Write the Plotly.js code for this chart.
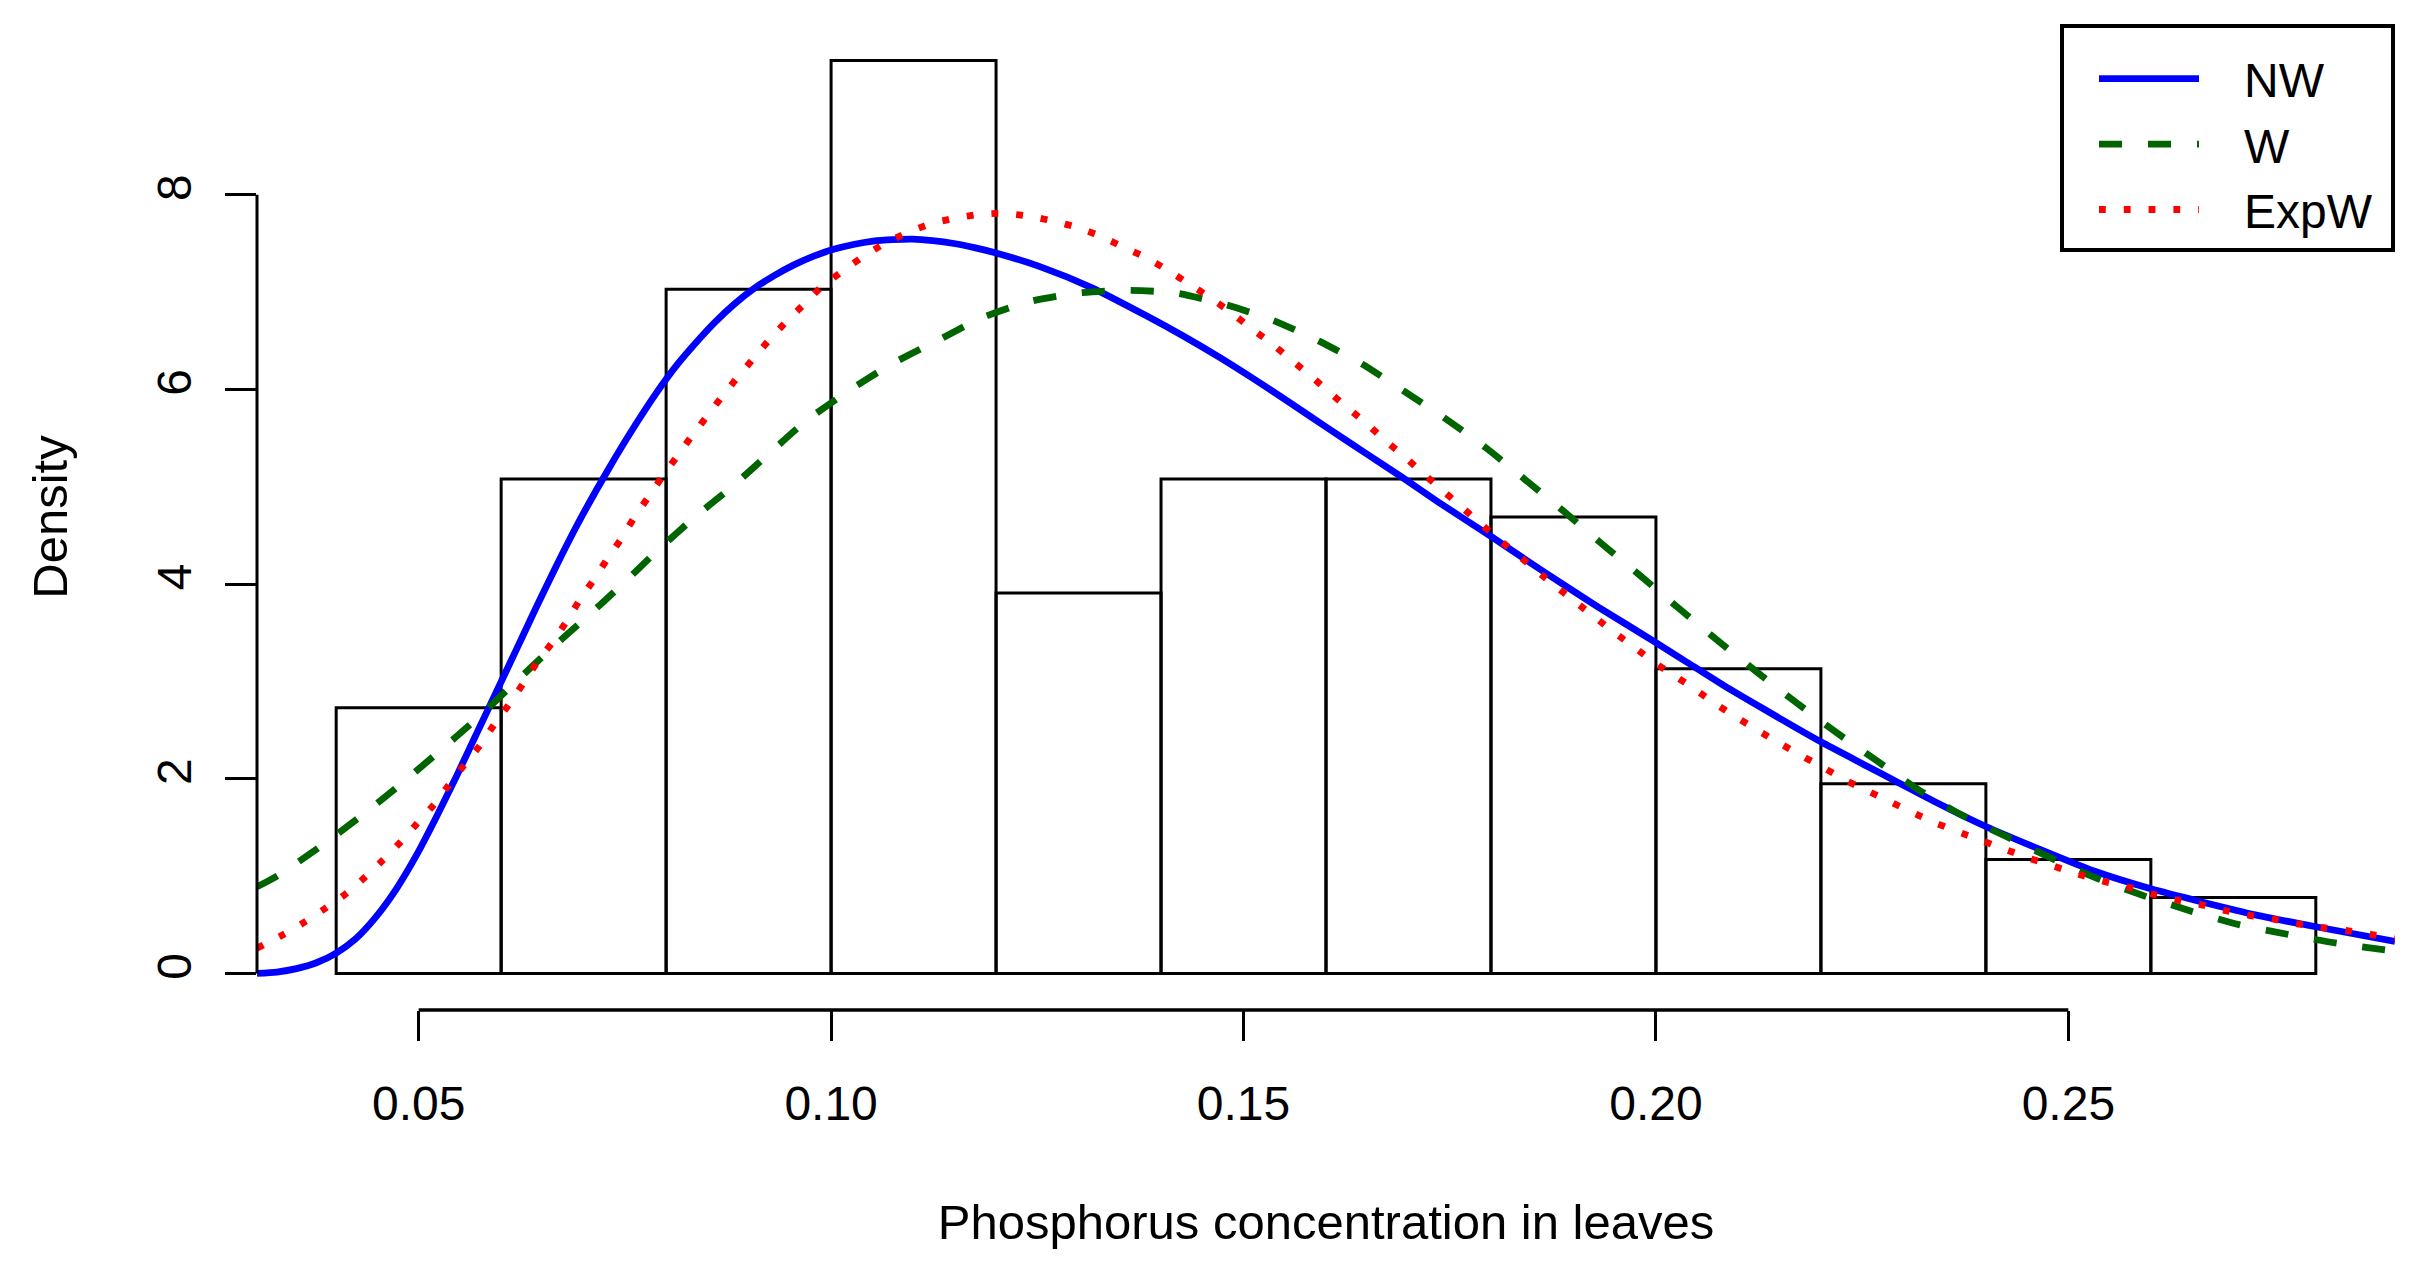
<!DOCTYPE html>
<html>
<head>
<meta charset="utf-8">
<script src="https://cdn.plot.ly/plotly-3.0.1.min.js"></script>
<style>
  html, body { margin: 0; padding: 0; background: #fff; }
  #plot { width: 2422px; height: 1262px; }
</style>
</head>
<body>
<div id="plot"></div>
<script>
// histogram (density scale)
var breaks  = [0.04, 0.06, 0.08, 0.10, 0.12, 0.14, 0.16, 0.18, 0.20, 0.22, 0.24, 0.26, 0.28];
var density = [2.73, 5.08, 7.03, 9.38, 3.91, 5.08, 5.08, 4.69, 3.13, 1.95, 1.17, 0.78];

// fitted curves, points
var xNW = [0.0304, 0.0328, 0.0352, 0.0376, 0.040, 0.0424, 0.0449, 0.0473, 0.0497, 0.0521, 0.0546,
           0.0570, 0.0594, 0.0618, 0.0643, 0.0667, 0.0691, 0.0715, 0.0739, 0.0763, 0.0787, 0.0811,
           0.0835, 0.0859, 0.0883, 0.0907, 0.0931, 0.0955, 0.0979, 0.1003, 0.1027, 0.1051, 0.1075,
           0.1099, 0.1123, 0.1149, 0.1175, 0.1201, 0.1254, 0.1315, 0.1384, 0.1427, 0.1471, 0.1514,
           0.1557, 0.1601, 0.1649, 0.1692, 0.1735, 0.180, 0.1844, 0.1887, 0.1931, 0.200, 0.2039,
           0.2082, 0.2126, 0.220, 0.2256, 0.2294, 0.2337, 0.240, 0.2467, 0.2532, 0.260, 0.2662,
           0.2728, 0.280, 0.2896];
var yNW = [0.00, 0.015, 0.05, 0.11, 0.21, 0.36, 0.59, 0.87, 1.21, 1.60, 2.03,
           2.46, 2.89, 3.32, 3.77, 4.19, 4.59, 4.96, 5.31, 5.64, 5.95, 6.23,
           6.47, 6.69, 6.88, 7.04, 7.17, 7.28, 7.37, 7.44, 7.49, 7.525, 7.54,
           7.545, 7.53, 7.50, 7.455, 7.40, 7.26, 7.05, 6.75, 6.55, 6.33, 6.10,
           5.86, 5.61, 5.34, 5.10, 4.85, 4.49, 4.24, 4.00, 3.76, 3.40, 3.19,
           2.96, 2.74, 2.38, 2.13, 1.96, 1.77, 1.51, 1.27, 1.05, 0.87, 0.735,
           0.60, 0.48, 0.33];

var xW = [0.0304, 0.0330, 0.0380, 0.0429, 0.0476, 0.0522, 0.0568, 0.0612, 0.0657, 0.0702, 0.0746,
          0.0790, 0.0835, 0.0881, 0.0926, 0.0970, 0.1022, 0.1073, 0.1126, 0.1181, 0.1239, 0.1298,
          0.1358, 0.1419, 0.1479, 0.1536, 0.1591, 0.1644, 0.1695, 0.1745, 0.1794, 0.1842, 0.1888,
          0.1935, 0.1982, 0.2028, 0.2075, 0.2122, 0.2169, 0.2218, 0.2267, 0.2318, 0.2370, 0.2424,
          0.2478, 0.2534, 0.2591, 0.2649, 0.2708, 0.2767, 0.2826, 0.2896];
var yW = [0.89, 1.01, 1.30, 1.61, 1.93, 2.26, 2.60, 2.95, 3.31, 3.65, 3.99,
          4.35, 4.69, 5.01, 5.35, 5.68, 5.99, 6.26, 6.49, 6.73, 6.90, 6.99,
          7.02, 6.99, 6.87, 6.71, 6.50, 6.26, 5.98, 5.70, 5.40, 5.07, 4.75,
          4.41, 4.08, 3.75, 3.42, 3.10, 2.79, 2.48, 2.19, 1.89, 1.63, 1.41,
          1.19, 0.98, 0.80, 0.64, 0.50, 0.40, 0.31, 0.23];

var xExpW = [0.0304, 0.0336, 0.0362, 0.0387, 0.0412, 0.0435, 0.0456, 0.0478, 0.0498, 0.0518, 0.0536,
             0.0555, 0.0574, 0.0591, 0.0609, 0.0626, 0.0643, 0.0661, 0.0678, 0.0694, 0.0711, 0.0728,
             0.0745, 0.0761, 0.0778, 0.0795, 0.0813, 0.0831, 0.0849, 0.0868, 0.0887, 0.0906, 0.0926,
             0.0947, 0.0969, 0.0989, 0.1013, 0.1038, 0.1065, 0.1092, 0.1120, 0.1150, 0.1180, 0.1210,
             0.1240, 0.1270, 0.1300, 0.1328, 0.1355, 0.1383, 0.1409, 0.1435, 0.1460, 0.1485, 0.1509,
             0.1533, 0.1557, 0.1580, 0.1603, 0.1625, 0.1648, 0.1671, 0.1694, 0.1716, 0.1739, 0.1762,
             0.1785, 0.1808, 0.1831, 0.1855, 0.1878, 0.1902, 0.1926, 0.1950, 0.1974, 0.1999, 0.2024,
             0.2049, 0.2074, 0.2100, 0.2125, 0.2151, 0.2178, 0.2204, 0.2231, 0.2258, 0.2285, 0.2312,
             0.2341, 0.2368, 0.2397, 0.2425, 0.2454, 0.2483, 0.2512, 0.2541, 0.2571, 0.2600, 0.2629,
             0.2659, 0.2688, 0.2718, 0.2748, 0.2778, 0.2809, 0.2838, 0.2868, 0.2896];
var yExpW = [0.26, 0.40, 0.53, 0.67, 0.82, 0.99, 1.16, 1.35, 1.54, 1.73, 1.93,
             2.14, 2.34, 2.55, 2.76, 2.97, 3.19, 3.39, 3.60, 3.82, 4.03, 4.25,
             4.46, 4.68, 4.89, 5.10, 5.31, 5.52, 5.72, 5.93, 6.13, 6.32, 6.52,
             6.71, 6.89, 7.06, 7.21, 7.36, 7.50, 7.61, 7.70, 7.76, 7.80, 7.81,
             7.78, 7.73, 7.66, 7.57, 7.46, 7.35, 7.22, 7.08, 6.94, 6.79, 6.63,
             6.48, 6.31, 6.15, 5.98, 5.82, 5.66, 5.48, 5.32, 5.15, 4.98, 4.81,
             4.64, 4.47, 4.31, 4.14, 3.98, 3.82, 3.66, 3.50, 3.35, 3.19, 3.05,
             2.91, 2.76, 2.62, 2.49, 2.36, 2.23, 2.11, 1.98, 1.87, 1.76, 1.65,
             1.54, 1.45, 1.36, 1.27, 1.18, 1.10, 1.02, 0.95, 0.89, 0.82, 0.76,
             0.71, 0.65, 0.60, 0.56, 0.51, 0.47, 0.44, 0.40, 0.36];

var xTicks = [0.05, 0.10, 0.15, 0.20, 0.25];
var xTickText = ["0.05", "0.10", "0.15", "0.20", "0.25"];
var yTicks = [0, 2, 4, 6, 8];

var fontFam = "Liberation Sans, Arial, Helvetica, sans-serif";
var nb = '\u00a0';

var mids = [], widths = [];
for (var i = 0; i < density.length; i++) {
    mids.push((breaks[i] + breaks[i + 1]) / 2);
    widths.push(breaks[i + 1] - breaks[i]);
}

var hist = {
    type: 'bar',
    x: mids,
    y: density,
    width: widths,
    marker: { color: 'rgba(0,0,0,0)', line: { color: 'black', width: 3 } },
    showlegend: false,
    hoverinfo: 'skip'
};

function curve(name, xs, ys, color, width, dash) {
    return {
        type: 'scatter',
        mode: 'lines',
        name: nb + nb + nb + name + nb,
        x: xs,
        y: ys,
        line: { color: color, width: width, dash: dash, shape: 'spline', smoothing: 0.6 }
    };
}

var traces = [
    hist,
    curve('NW', xNW, yNW, '#0000FF', 6.8, 'solid'),
    curve('W', xW, yW, '#006400', 6.8, '23px,26px'),
    curve('ExpW', xExpW, yExpW, '#FF0000', 6.8, '6.8px,18px')
];

// R style: ranges padded 4%, axis line only spans the tick range
var xspan = breaks[breaks.length - 1] - breaks[0];
var ymax = Math.max.apply(null, density);

var layout = {
    width: 2422,
    height: 1262,
    margin: { l: 257, r: 27, t: 24, b: 252 },
    paper_bgcolor: 'white',
    plot_bgcolor: 'white',
    font: { family: fontFam, size: 48, color: 'black' },
    bargap: 0,
    xaxis: {
        range: [breaks[0] - 0.04 * xspan, breaks[breaks.length - 1] + 0.04 * xspan],
        tickvals: xTicks,
        ticktext: xTickText,
        ticks: 'outside',
        ticklen: 30,
        tickwidth: 3,
        tickcolor: 'black',
        ticklabelstandoff: 21,
        showline: false,
        showgrid: false,
        zeroline: false,
        tickfont: { size: 48 },
        title: { text: 'Phosphorus concentration in leaves', font: { size: 49 }, standoff: 76 }
    },
    yaxis: {
        range: [-0.04 * ymax, ymax * 1.04],
        tickvals: yTicks,
        ticks: 'outside',
        ticklen: 31,
        tickwidth: 3,
        tickcolor: 'black',
        tickangle: -90,
        ticklabelstandoff: 15,
        showline: false,
        showgrid: false,
        zeroline: false,
        tickfont: { size: 48 },
        title: { text: 'Density', font: { size: 49 }, standoff: 64 }
    },
    shapes: [
        { type: 'line', xref: 'x', yref: 'paper', x0: xTicks[0], x1: xTicks[xTicks.length - 1], y0: 0, y1: 0,
          line: { color: 'black', width: 3.5 } },
        { type: 'line', xref: 'paper', yref: 'y', x0: 0, x1: 0, y0: yTicks[0], y1: yTicks[yTicks.length - 1],
          line: { color: 'black', width: 3 } }
    ],
    legend: {
        x: 1, xanchor: 'right', y: 1, yanchor: 'top',
        bgcolor: 'white',
        bordercolor: 'black',
        borderwidth: 4,
        itemwidth: 100,
        indentation: 30,
        title: { text: nb, font: { size: 10 } },
        font: { family: fontFam, size: 48, color: 'black' }
    }
};

Plotly.newPlot('plot', traces, layout, { staticPlot: true });
</script>
</body>
</html>
